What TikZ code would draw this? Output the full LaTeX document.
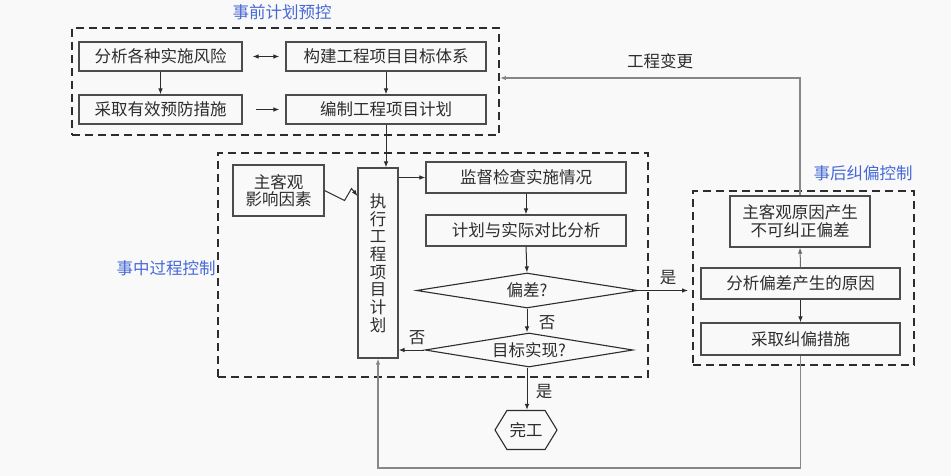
\documentclass[tikz,border=0pt]{standalone}
\usepackage{fontspec}
\setmainfont{Noto Sans CJK SC}
\usetikzlibrary{arrows.meta,shapes.geometric,shapes.symbols}
\definecolor{bg}{RGB}{249,249,249}
\definecolor{ink}{RGB}{45,45,45}
\definecolor{lbl}{RGB}{70,105,215}
\definecolor{fb}{RGB}{135,135,135}
\begin{document}
\begin{tikzpicture}[x=1pt,y=-1pt,
  every node/.style={font=\fontsize{16.5}{17.7}\selectfont, text=ink, inner sep=0pt},
  box/.style={draw=ink!85, line width=1.1pt, align=center},
  group/.style={draw=ink, line width=1.8pt, dash pattern=on 8pt off 5pt},
  dia/.style={diamond, draw=ink, line width=1.1pt},
  arr/.style={draw=ink, line width=1pt, -{Latex[length=6pt,width=4.5pt]}},
  fbarr/.style={draw=fb, line width=1.2pt, -{Latex[length=6pt,width=4.5pt]}},
  grouplbl/.style={text=lbl},
]
\fill[bg] (0,0) rectangle (951,476);
\useasboundingbox (0,0) rectangle (951,476);

% groups
\node[group, minimum width=427, minimum height=107] (gT) at (285.5,81.5) {};
\node[group, minimum width=430, minimum height=224] (gM) at (433,265) {};
\node[group, minimum width=221, minimum height=174] (gR) at (803.5,278) {};

\node[grouplbl] (lT) at (282,12) {事前计划预控};
\node[grouplbl] (lM) at (166,268) {事中过程控制};
\node[grouplbl] (lR) at (863,173) {事后纠偏控制};
\node (lC) at (660,61) {工程变更};

% top group
\node[box, minimum width=163, minimum height=29] (b1) at (160.5,56.5) {分析各种实施风险};
\node[box, minimum width=200, minimum height=29] (b2) at (386,56.5) {构建工程项目目标体系};
\node[box, minimum width=163, minimum height=29] (b3) at (160.5,109.5) {采取有效预防措施};
\node[box, minimum width=200, minimum height=29] (b4) at (386,109.5) {编制工程项目计划};

% middle group
\node[box, minimum width=91, minimum height=51] (infl) at (278.5,190.5) {主客观\\影响因素};
\node[box, minimum width=40, minimum height=190] (exec) at (378,263) {执\\行\\工\\程\\项\\目\\计\\划};
\node[box, minimum width=200, minimum height=31] (m1) at (526,177.5) {监督检查实施情况};
\node[box, minimum width=200, minimum height=31] (m2) at (526,230.5) {计划与实际对比分析};
\node[dia, aspect=6.3, minimum width=221, minimum height=35] (d1) at (527,290.5) {偏差?};
\node[dia, aspect=6.1, minimum width=208, minimum height=34] (d2) at (529,350) {目标实现?};
\node[signal, signal to=west and east, draw=ink, line width=1.1pt, minimum width=62, minimum height=39, signal pointer angle=117] (done) at (526,430) {完工};

% right group
\node[box, minimum width=140, minimum height=51] (r1) at (800,221.5) {主客观原因产生\\不可纠正偏差};
\node[box, minimum width=199, minimum height=31] (r2) at (800.5,283.5) {分析偏差产生的原因};
\node[box, minimum width=199, minimum height=32] (r3) at (800.5,339) {采取纠偏措施};

% connectors
\draw[arr, {Latex[length=6pt,width=4.5pt]}-{Latex[length=6pt,width=4.5pt]}] ([xshift=10pt]b1.east) -- ([xshift=-6pt]b2.west);
\draw[arr] ([xshift=13pt]b3.east) -- ([xshift=-6pt]b4.west);
\draw[arr] (b1.south) -- (b3.north);
\draw[arr] (b2.south) -- (b4.north);
\draw[arr] (b4.south) -- (b4.south |- exec.north);
\draw[arr] (infl.east) -- ++(20,10) -- ++(7,-12) -- (exec.west |- 0,196);
\draw[arr] (exec.east |- m1.west) -- (m1.west);
\draw[arr] (m1.south) -- (m2.north);
\draw[arr] (m2.south) -- (d1.north);
\draw[arr] (d1.south) -- (d1.south |- d2.north);
\draw[arr] (d2.west) -- (d2.west -| exec.east);
\draw[arr] (d1.south |- d2.south) -- (d1.south |- done.north);
\draw[arr, shorten >=4pt] (d1.east) -- (gR.west |- d1.east);
\draw[arr, draw=ink!70] (r2.north) -- (r1.south);
\draw[arr] (r2.south) -- (r3.north);
\draw[fbarr] (r1.north) -- (r1.north |- 0,78) -- (gT.east |- 0,78);
\draw[fbarr] (r3.south) -- (r3.south |- 0,468) -| (exec.south);

% edge labels
\node (y1) at (668,278) {是};
\node (n1) at (547,323) {否};
\node (n2) at (417,338) {否};
\node (y2) at (544,392) {是};
\end{tikzpicture}
\end{document}
